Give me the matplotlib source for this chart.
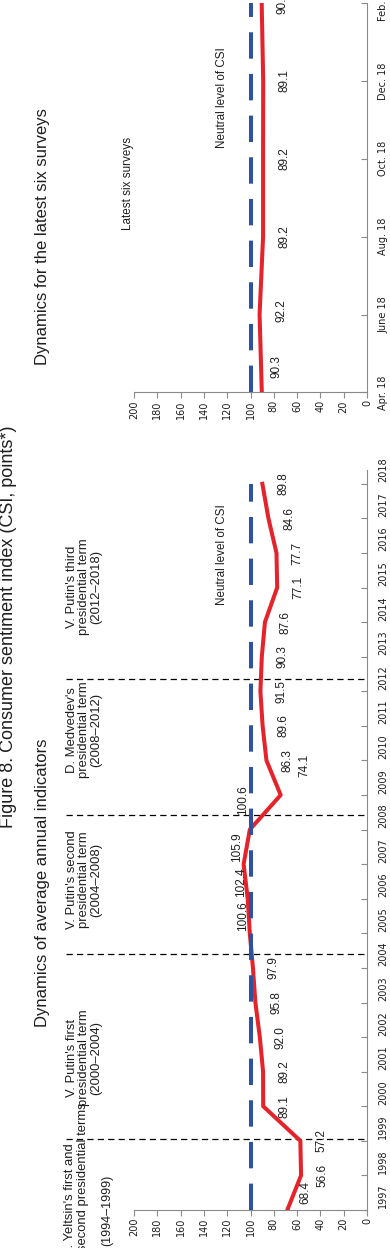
import matplotlib
matplotlib.use("Agg")
import matplotlib.pyplot as plt

W, H = 390, 1248  # output size in pixels

# ---- data -------------------------------------------------------------
years = list(range(1997, 2019))
csi_annual = [68.4, 56.6, 57.2, 89.1, 89.2, 92.0, 95.8, 97.9, 100.6, 102.4, 105.9,
              100.6, 74.1, 86.3, 89.6, 91.5, 90.3, 87.6, 77.1, 77.7, 84.6, 89.8]
survey_labels = ["Apr. 18", "June 18", "Aug. 18", "Oct. 18", "Dec. 18", "Feb. 19"]
csi_surveys = [90.3, 92.2, 89.2, 89.2, 89.1, 90.4]
neutral_level = 100
value_ticks = list(range(0, 201, 20))
term_bounds = [1999.05, 2004.4, 2008.43, 2012.37]

RED = "#e5232b"
BLUE = "#2e52a0"
GREY = "#8a8a8a"
TXT = "#1e1e1e"
FONT = ["Liberation Sans", "DejaVu Sans"]

plt.rcParams["lines.scale_dashes"] = False
plt.rcParams["font.family"] = ["DejaVu Sans"]

fig = plt.figure(figsize=(W / 100, H / 100), dpi=100)


def px_rect(left, top, right, bottom):
    return [left / W, 1 - bottom / H, (right - left) / W, (bottom - top) / H]


def ftext(px, py, s, size, ha="center", va="center", **kw):
    fig.text(px / W, 1 - py / H, s, rotation=90, ha=ha, va=va, fontsize=size,
             family=FONT, color=TXT, **kw)


def style_axes(ax):
    ax.patch.set_visible(False)
    ax.spines["top"].set_visible(False)
    ax.spines["left"].set_visible(False)
    for s in ("bottom", "right"):
        ax.spines[s].set_color(GREY)
        ax.spines[s].set_linewidth(0.8)
    ax.set_xlim(200, 0)
    ax.set_xticks(value_ticks)
    ax.set_xticklabels([str(v) for v in value_ticks], rotation=90)
    ax.tick_params(axis="x", direction="out", length=4, width=0.8, color=GREY,
                   pad=1.5, labelsize=7, labelcolor=TXT)
    ax.yaxis.tick_right()
    ax.tick_params(axis="y", which="major", direction="in", length=4, width=0.8,
                   color=GREY, labelsize=7, labelcolor=TXT, pad=8)


def label_points(ax, xs, ys, offsets):
    for i, (x, y) in enumerate(zip(xs, ys)):
        dx, dy = offsets.get(i, (21, 0))
        ax.annotate(f"{y:.1f}", (y, x), xytext=(dx, dy), textcoords="offset pixels",
                    rotation=90, ha="center", va="center", fontsize=8.5,
                    family=FONT, color=TXT, annotation_clip=False)


# ---- annual panel ------------------------------------------------------
ax1 = fig.add_axes(px_rect(134, 470, 367, 1210))
style_axes(ax1)
ax1.set_ylim(years[0], years[-1])
ax1.set_yticks(years)
ax1.set_yticklabels([])
ax1.set_yticks([y + 0.4 for y in years], minor=True)
ax1.set_yticklabels([str(y) for y in years], minor=True, rotation=90, va="center")
ax1.tick_params(axis="y", which="minor", length=0, labelsize=7, labelcolor=TXT, pad=8)

for b in term_bounds:
    ax1.axhline(b, xmin=-0.29, xmax=1, color="black", lw=0.9, dashes=(4.5, 3),
                clip_on=False, zorder=1)
ax1.plot(csi_annual, years, color=RED, lw=2.9, solid_joinstyle="round", zorder=3)
ax1.plot([neutral_level] * len(years), years, color=BLUE, lw=2.9,
         dashes=(19, 11), zorder=4)
label_points(ax1, years, csi_annual,
             {0: (18, 18), 8: (-7, 17), 9: (-7, 17), 10: (-7, 17), 11: (-7, 30),
              12: (24, 30)})

# ---- latest six surveys panel -----------------------------------------
ax2 = fig.add_axes(px_rect(134, 3, 367, 392.5))
style_axes(ax2)
pos = list(range(len(survey_labels)))
ax2.set_ylim(pos[0], pos[-1])
ax2.set_yticks(pos)
ax2.set_yticklabels(survey_labels, rotation=90, va="center")
ax2.plot(csi_surveys, pos, color=RED, lw=2.9, solid_joinstyle="round", zorder=3)
ax2.plot([neutral_level] * len(pos), pos, color=BLUE, lw=2.9,
         dashes=(19, 11), zorder=4)
label_points(ax2, pos, csi_surveys, {0: (15, 26), 1: (22, 4)})

# ---- texts --------------------------------------------------------------
ftext(9, 627, "Figure 8. Consumer sentiment index (CSI, points*)", 13)
ftext(43, 883, "Dynamics of average annual indicators", 12)
ftext(43, 237, "Dynamics for the latest six surveys", 12)
ftext(128, 183, "Latest six surveys", 8.4)
ftext(222, 98, "Neutral level of CSI", 8.4)
ftext(222, 555, "Neutral level of CSI", 8.4)

ftext(70, 1143, "B. Yeltsin's first and", 9.4, va="top")
ftext(83, 1102, "second presidential terms", 9.4, va="top")
ftext(107, 1246, "(1994\u20131999)", 9.0, va="bottom")
ftext(84, 1058, "V. Putin's first\npresidential term\n(2000\u20132004)", 9.4, linespacing=1.0)
ftext(84, 880, "V. Putin's second\npresidential term\n(2004\u20132008)", 9.4, linespacing=1.0)
ftext(84, 730, "D. Medvedev's\npresidential term\n(2008\u20132012)", 9.4, linespacing=1.0)
ftext(84, 587, "V. Putin's third\npresidential term\n(2012\u20132018)", 9.4, linespacing=1.0)

fig.savefig("out.png", dpi=100)
